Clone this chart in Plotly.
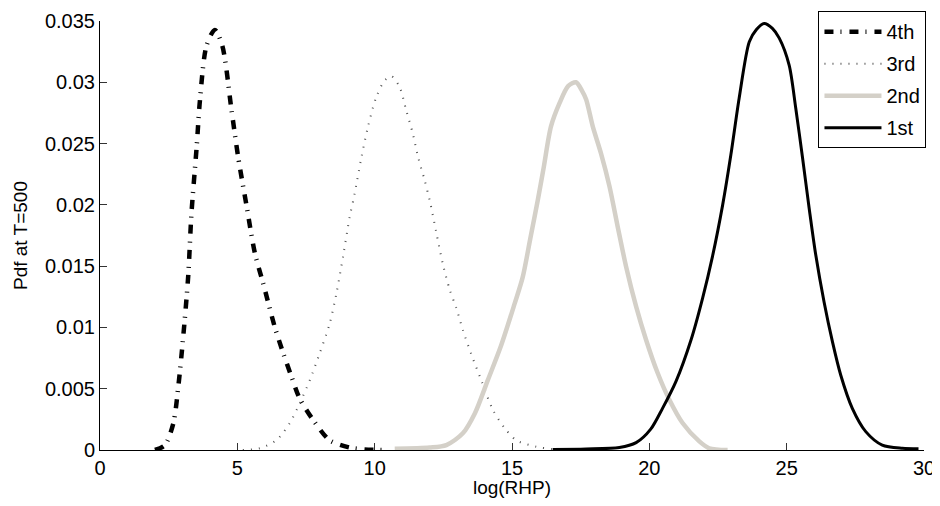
import plotly.graph_objects as go

# ---- data ----
x_4th = [2.0, 2.36, 2.67, 2.85, 3.03, 3.21, 3.33, 3.52, 3.64, 3.88, 4.18, 4.45, 4.79, 5.03, 5.33,
         5.64, 5.94, 6.36, 6.67, 6.97, 7.27, 7.76, 8.36, 9.09, 9.6, 10.3]
y_4th = [0.0, 0.0004, 0.00218, 0.00517, 0.00924, 0.01414, 0.0193, 0.02475, 0.02856, 0.0330, 0.03427,
         0.0330, 0.0277, 0.0239, 0.0200, 0.01605, 0.0136, 0.01006, 0.0079, 0.0060, 0.0042, 0.00245,
         0.0008, 0.0002, 0.00005, 0.0]

x_3rd = [5.2, 5.82, 6.42, 6.91, 7.27, 7.64, 8.0, 8.36, 8.61, 8.85, 9.09, 9.27, 9.52, 9.76, 10.06,
         10.35, 10.61, 10.91, 11.15, 11.39, 11.58, 11.82, 12.0, 12.24, 12.48, 12.73, 12.97, 13.21,
         13.52, 13.88, 14.30, 14.73, 15.15, 15.88, 16.7]
y_3rd = [0.0, 0.00014, 0.0008, 0.0022, 0.0038, 0.0057, 0.0079, 0.0103, 0.0128, 0.0158, 0.0190,
         0.0209, 0.0239, 0.0264, 0.0288, 0.0301, 0.0305, 0.0296, 0.0277, 0.0258, 0.0239, 0.0220,
         0.0204, 0.0178, 0.0152, 0.0131, 0.0116, 0.0098, 0.0078, 0.0057, 0.0033, 0.0018, 0.0008,
         0.00027, 0.0]

x_2nd = [10.73, 12.0, 12.61, 13.21, 13.65, 14.12, 14.6, 15.09, 15.39, 15.67, 15.94, 16.15, 16.42,
         16.73, 17.05, 17.33, 17.55, 17.70, 17.94, 18.24, 18.55, 18.85, 19.15, 19.52, 19.88, 20.30,
         20.73, 21.21, 21.82, 22.18, 22.85]
y_2nd = [0.0001, 0.0002, 0.0004, 0.00136, 0.003, 0.0057, 0.0085, 0.0119, 0.0141, 0.0173, 0.0204,
         0.0230, 0.0264, 0.0283, 0.0297, 0.0300, 0.0293, 0.0286, 0.0264, 0.0242, 0.0215, 0.0182,
         0.0150, 0.0117, 0.0090, 0.0063, 0.0041, 0.0022, 0.0007, 0.00014, 0.0]

x_1st = [16.48, 17.70, 18.91, 19.52, 20.05, 20.48, 20.97, 21.52, 21.94, 22.30, 22.67, 22.97, 23.27,
         23.64, 23.9, 24.18, 24.48, 24.73, 25.09, 25.33, 25.58, 25.82, 26.06, 26.36, 26.67, 26.97,
         27.39, 27.88, 28.48, 29.21, 29.8]
y_1st = [0.00004, 0.00008, 0.0002, 0.0006, 0.0017, 0.0034, 0.0056, 0.0090, 0.0124, 0.0158, 0.0200,
         0.0241, 0.0287, 0.0333, 0.0343, 0.0348, 0.0344, 0.0336, 0.0314, 0.0279, 0.0238, 0.0197,
         0.0159, 0.0121, 0.0088, 0.0061, 0.0034, 0.0015, 0.0004, 0.00014, 0.0001]

x_ticks = [0, 5, 10, 15, 20, 25, 30]
y_ticks = [0, 0.005, 0.01, 0.015, 0.02, 0.025, 0.03, 0.035]
y_tick_labels = ["0", "0.005", "0.01", "0.015", "0.02", "0.025", "0.03", "0.035"]

FONT = "Liberation Sans, Arial, Helvetica, sans-serif"

fig = go.Figure()
fig.add_trace(go.Scatter(x=x_4th, y=y_4th, mode="lines", name="4th", legendgroup="g4",
                         line=dict(color="black", width=4.5, dash="9px,7px,1px,8px",
                                   shape="spline", smoothing=0.8)))
fig.add_trace(go.Scatter(x=x_3rd, y=y_3rd, mode="lines", name="3rd", legendgroup="g3",
                         line=dict(color="#555555", width=2, dash="1px,7px",
                                   shape="spline", smoothing=0.8)))
fig.add_trace(go.Scatter(x=x_2nd, y=y_2nd, mode="lines", name="2nd", legendgroup="g2",
                         line=dict(color="#d4d0c8", width=4.5, shape="spline", smoothing=0.8)))
fig.add_trace(go.Scatter(x=x_1st, y=y_1st, mode="lines", name="1st", legendgroup="g1",
                         line=dict(color="black", width=3, shape="spline", smoothing=0.8)))

fig.update_layout(
    width=930, height=490,
    margin=dict(l=92, r=14, t=13, b=48, autoexpand=False),
    paper_bgcolor="white", plot_bgcolor="white",
    font=dict(family=FONT, size=20, color="black"),
    showlegend=True,
    legend=dict(x=1.003, y=1.023, xanchor="right", yanchor="top",
                bgcolor="white", bordercolor="black", borderwidth=1,
                font=dict(family=FONT, size=20, color="black"),
                tracegroupgap=3, traceorder="grouped", itemwidth=57),
)
fig.update_xaxes(range=[0, 30], tickvals=x_ticks, ticks="inside", ticklen=7,
                 tickcolor="#333333", showline=True, linecolor="black", linewidth=1,
                 showgrid=False, zeroline=False, mirror=False, automargin=False,
                 title=dict(text="log(RHP)", standoff=6, font=dict(size=19)))
fig.update_yaxes(range=[0, 0.035], tickvals=y_ticks, ticktext=y_tick_labels, ticks="inside",
                 ticklen=7, tickcolor="#333333", showline=True, linecolor="black", linewidth=1,
                 showgrid=False, zeroline=False, mirror=False, automargin=False,
                 title=dict(text="Pdf at T=500", standoff=12, font=dict(size=19)))

fig.write_html("out.html")
